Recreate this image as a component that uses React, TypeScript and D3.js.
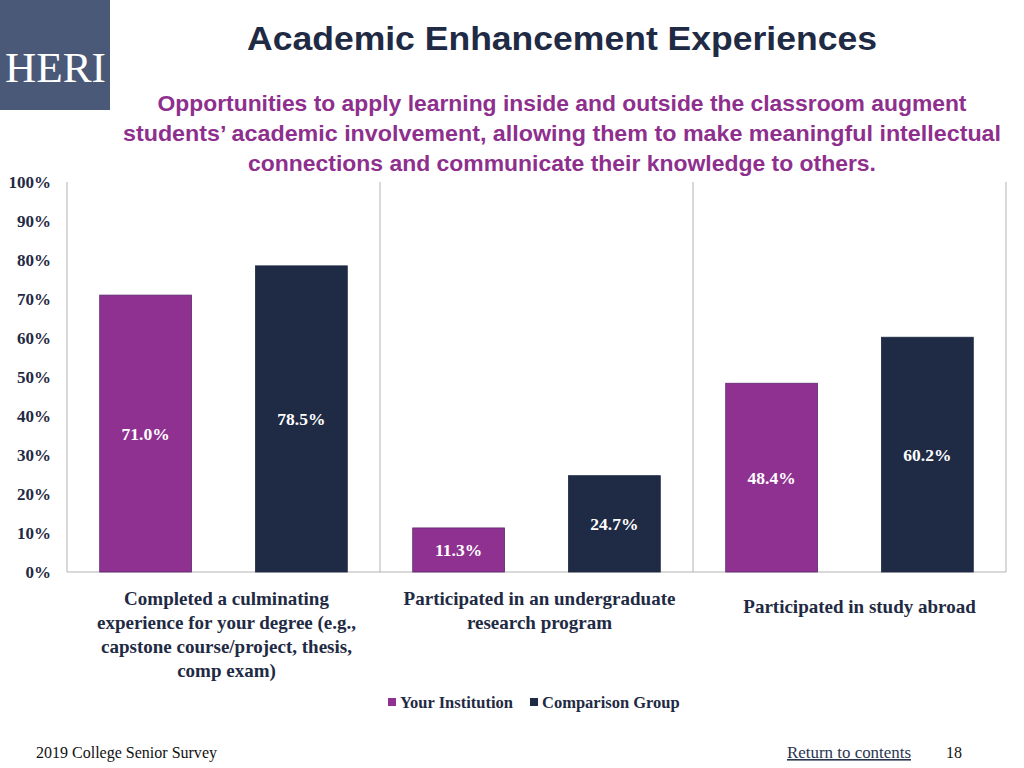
import React, { useEffect, useRef } from 'react';
import * as d3 from 'd3';

// chart values
const categories = [
  'Completed a culminating experience for your degree (e.g., capstone course/project, thesis, comp exam)',
  'Participated in an undergraduate research program',
  'Participated in study abroad',
];
const categoryLines = [
  ['Completed a culminating', 'experience for your degree (e.g.,', 'capstone course/project, thesis,', 'comp exam)'],
  ['Participated in an undergraduate', 'research program'],
  ['Participated in study abroad'],
];
const seriesNames = ['Your Institution', 'Comparison Group'];
const yourInstitution = [71.0, 11.3, 48.4];
const comparisonGroup = [78.5, 24.7, 60.2];
const yTicks = [0, 10, 20, 30, 40, 50, 60, 70, 80, 90, 100];

const subtitleLines = [
  'Opportunities to apply learning inside and outside the classroom augment',
  'students\u2019 academic involvement, allowing them to make meaningful intellectual',
  'connections and communicate their knowledge to others.',
];
const subtitleWidths = [809, 878, 628];

const W = 1024;
const H = 768;
const PURPLE = '#8f3191';
const NAVY = '#1f2b45';
const TEXT = '#1f2a44';
const SERIF = '"Liberation Serif", "DejaVu Serif", serif';
const SANS_NARROW = '"Liberation Sans Narrow", "Liberation Sans", "Roboto", sans-serif';

const App: React.FC = () => {
  const svgRef = useRef<SVGSVGElement>(null);

  useEffect(() => {
    if (!svgRef.current) return;
    const svg = d3.select(svgRef.current);
    svg.selectAll('*').remove();

    const left = 67, right = 1006, top = 182, bottom = 572;

    const x0 = d3.scaleBand().domain(categories).range([left, right]).padding(0);
    const x1 = d3.scaleBand()
      .domain(seriesNames)
      .range([0, x0.bandwidth()])
      .paddingInner(0.41)
      .paddingOuter(0.21);
    const y = d3.scaleLinear().domain([0, 100]).range([bottom, top]);
    const color = d3.scaleOrdinal<string, string>().domain(seriesNames).range([PURPLE, NAVY]);

    // logo
    svg.append('rect').attr('x', 0).attr('y', 0).attr('width', 110).attr('height', 110).attr('fill', '#4a5977');
    svg.append('text')
      .attr('x', 5).attr('y', 82)
      .attr('font-family', SERIF)
      .attr('font-size', 42)
      .attr('textLength', 101)
      .attr('lengthAdjust', 'spacingAndGlyphs')
      .attr('fill', '#fff')
      .text('HERI');

    // title
    svg.append('text')
      .attr('x', 247).attr('y', 50)
      .attr('font-family', SANS_NARROW)
      .attr('font-weight', 'bold')
      .attr('font-size', 34)
      .attr('textLength', 630)
      .attr('lengthAdjust', 'spacingAndGlyphs')
      .attr('fill', TEXT)
      .text('Academic Enhancement Experiences');

    svg.append('g')
      .selectAll('text')
      .data(subtitleLines)
      .join('text')
      .attr('x', (_, i) => 562 - subtitleWidths[i] / 2)
      .attr('y', (_, i) => 111 + i * 30)
      .attr('font-family', SANS_NARROW)
      .attr('font-weight', 'bold')
      .attr('font-size', 22)
      .attr('textLength', (_, i) => subtitleWidths[i])
      .attr('lengthAdjust', 'spacingAndGlyphs')
      .attr('fill', '#8e2f8e')
      .text(d => d);

    // frame: left axis, baseline, category separators
    const frame = svg.append('g').attr('stroke', '#b3b3b3').attr('stroke-width', 1).attr('fill', 'none');
    frame.append('line').attr('x1', left).attr('x2', left).attr('y1', top).attr('y2', bottom);
    frame.append('line').attr('x1', left).attr('x2', right).attr('y1', bottom).attr('y2', bottom);
    categories.forEach(c => {
      const xr = (x0(c) || 0) + x0.bandwidth();
      frame.append('line').attr('x1', xr).attr('x2', xr).attr('y1', top).attr('y2', bottom);
    });

    // y tick labels
    svg.append('g')
      .selectAll('text')
      .data(yTicks)
      .join('text')
      .attr('x', 51)
      .attr('y', d => y(d))
      .attr('dy', '0.35em')
      .attr('text-anchor', 'end')
      .attr('font-family', SERIF)
      .attr('font-weight', 'bold')
      .attr('font-size', 17)
      .attr('fill', TEXT)
      .text(d => `${d}%`);

    // bars
    const rows = categories.map((c, i) => ({
      cat: c,
      values: [
        { key: seriesNames[0], value: yourInstitution[i] },
        { key: seriesNames[1], value: comparisonGroup[i] },
      ],
    }));

    const groups = svg.append('g')
      .selectAll('g')
      .data(rows)
      .join('g')
      .attr('transform', d => `translate(${x0(d.cat)},0)`);

    groups.selectAll('rect')
      .data(d => d.values)
      .join('rect')
      .attr('x', d => x1(d.key) || 0)
      .attr('y', d => y(d.value))
      .attr('width', x1.bandwidth())
      .attr('height', d => bottom - y(d.value))
      .attr('fill', d => color(d.key))
      .attr('stroke', d => (d.key === seriesNames[0] ? '#5e2a6e' : NAVY))
      .attr('stroke-width', 0.8);

    groups.selectAll('text')
      .data(d => d.values)
      .join('text')
      .attr('x', d => (x1(d.key) || 0) + x1.bandwidth() / 2)
      .attr('y', d => (y(d.value) + bottom) / 2)
      .attr('dy', '0.35em')
      .attr('text-anchor', 'middle')
      .attr('font-family', SERIF)
      .attr('font-weight', 'bold')
      .attr('font-size', 17.5)
      .attr('fill', '#fff')
      .text(d => `${d.value.toFixed(1)}%`);

    // category labels
    categories.forEach((c, i) => {
      const lines = categoryLines[i];
      const cx = (x0(c) || 0) + x0.bandwidth() / 2 + (i === 2 ? 10 : 3);
      const y0 = lines.length === 1 ? 606 : 598;
      svg.append('text')
        .attr('text-anchor', 'middle')
        .attr('font-family', SERIF)
        .attr('font-weight', 'bold')
        .attr('font-size', 19)
        .attr('fill', TEXT)
        .selectAll('tspan')
        .data(lines)
        .join('tspan')
        .attr('x', cx)
        .attr('y', (_, j) => y0 + j * 24)
        .attr('dy', '0.35em')
        .text(d => d);
    });

    // legend
    const legend = svg.append('g').attr('font-family', SERIF).attr('font-weight', 'bold').attr('font-size', 16.5).attr('fill', TEXT);
    const legendX = [388, 530];
    seriesNames.forEach((s, i) => {
      legend.append('rect')
        .attr('x', legendX[i]).attr('y', 698)
        .attr('width', 8).attr('height', 8)
        .attr('fill', color(s));
      legend.append('text')
        .attr('x', legendX[i] + 12).attr('y', 702)
        .attr('dy', '0.35em')
        .text(s);
    });

    // footer
    const footer = svg.append('g').attr('font-family', SERIF).attr('font-size', 16).attr('fill', '#111').attr('lengthAdjust', 'spacingAndGlyphs');
    footer.append('text').attr('x', 36).attr('y', 758).attr('textLength', 181).attr('lengthAdjust', 'spacingAndGlyphs').text('2019 College Senior Survey');
    footer.append('text').attr('x', 787).attr('y', 758).attr('textLength', 124).attr('lengthAdjust', 'spacingAndGlyphs')
      .attr('text-decoration', 'underline').attr('fill', '#2a3550').text('Return to contents');
    footer.append('text').attr('x', 946).attr('y', 758).text('18');
  }, []);

  return (
    <svg
      ref={svgRef}
      width={W}
      height={H}
      style={{ position: 'absolute', left: 0, top: 0, background: '#fff' }}
    />
  );
};

export default App;
